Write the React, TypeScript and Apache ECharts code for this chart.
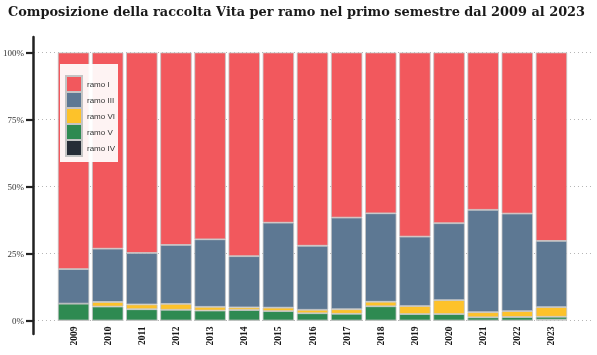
import React, { useEffect, useRef } from "react";
import * as echarts from "echarts";

const years = ["2009","2010","2011","2012","2013","2014","2015","2016","2017","2018","2019","2020","2021","2022","2023"];
const ramoIV = [0,0,0,0,0,0,0,0,0,0,0,0,0,0,0.3];
const ramoV = [6.3,5.2,4.2,4.0,3.7,3.9,3.5,2.7,2.5,5.3,2.4,2.4,1.2,1.3,1.1];
const ramoVI = [0,1.7,1.8,2.2,1.4,1.0,1.3,1.3,1.7,1.7,3.0,5.2,1.9,2.2,3.6];
const ramoIII = [12.9,19.9,19.2,22.0,25.2,19.1,31.7,23.9,34.2,33.0,25.9,28.7,38.2,36.4,24.7];
const ramoI = years.map((_, i) => +(100 - ramoIV[i] - ramoV[i] - ramoVI[i] - ramoIII[i]).toFixed(1));
const yTicks = [0, 25, 50, 75, 100];
const title = "Composizione della raccolta Vita per ramo nel primo semestre dal 2009 al 2023";

const colors: Record<string, string> = {
  "ramo IV": "#262d37",
  "ramo V": "#2e8a51",
  "ramo VI": "#fdc22a",
  "ramo III": "#5d7893",
  "ramo I": "#f2585d",
};

export default function App() {
  const ref = useRef<HTMLDivElement>(null);
  useEffect(() => {
    const chart = echarts.init(ref.current!, null, { renderer: "svg" });
    const seriesDefs: [string, number[]][] = [
      ["ramo IV", ramoIV],
      ["ramo V", ramoV],
      ["ramo VI", ramoVI],
      ["ramo III", ramoIII],
      ["ramo I", ramoI],
    ];
    chart.setOption({
      animation: false,
      title: {
        text: title,
        left: 3,
        top: 0,
        textStyle: { fontFamily: "DejaVu Serif", fontWeight: "bold", fontSize: 12.9, color: "#1a1a1a" },
      },
      legend: {
        orient: "vertical",
        left: 60,
        top: 64,
        data: ["ramo I", "ramo III", "ramo VI", "ramo V", "ramo IV"],
        icon: "rect",
        itemWidth: 16,
        itemHeight: 16,
        itemGap: -2,
        padding: [11, 3, 5, 5],
        backgroundColor: "rgba(255,255,255,0.93)",
        textStyle: { fontFamily: "Liberation Sans", fontSize: 8, color: "#333" },
      },
      grid: [
        { left: 56.5, right: 28.5, top: 52.5, bottom: 34.5 },
        { left: 33, right: 4, top: 52.5, bottom: 34.5 },
        { left: 33, right: 4, top: 37, bottom: 21 },
      ],
      xAxis: [
        {
          type: "category",
          data: years,
          gridIndex: 0,
          axisLine: { show: false },
          axisTick: { show: false },
          axisLabel: {
            rotate: 90,
            margin: 6,
            fontFamily: "Liberation Serif",
            fontWeight: "bold",
            fontSize: 9.5,
            color: "#1a1a1a",
          },
        },
        { type: "value", gridIndex: 1, show: false },
        { type: "value", gridIndex: 2, show: false },
      ],
      yAxis: [
        { type: "value", gridIndex: 0, min: 0, max: 100, show: false },
        {
          type: "value",
          gridIndex: 1,
          min: 0,
          max: 100,
          interval: 25,
          axisLine: { show: false },
          axisTick: { show: true, length: 8, lineStyle: { color: "#222", width: 2.2 } },
          axisLabel: {
            margin: 10,
            formatter: (v: number) => (yTicks.includes(v) ? v + "%" : ""),
            fontFamily: "Liberation Serif",
            fontSize: 9,
            color: "#333",
          },
          splitLine: { show: true, lineStyle: { color: "#b5b5b5", type: [1, 3], width: 1 } },
        },
        {
          type: "value",
          gridIndex: 2,
          min: 0,
          max: 1,
          axisLine: { show: true, lineStyle: { color: "#222", width: 2.5 } },
          axisTick: { show: false },
          axisLabel: { show: false },
          splitLine: { show: false },
        },
      ],
      series: seriesDefs.map(([name, data]) => ({
        name,
        type: "bar",
        stack: "total",
        xAxisIndex: 0,
        yAxisIndex: 0,
        data,
        barCategoryGap: "8%",
        itemStyle: { color: colors[name], borderColor: "#c4c4c4", borderWidth: 0.8 },
      })),
    });
    return () => chart.dispose();
  }, []);
  return <div ref={ref} style={{ position: "fixed", left: 0, top: 0, width: 597, height: 355 }} />;
}
